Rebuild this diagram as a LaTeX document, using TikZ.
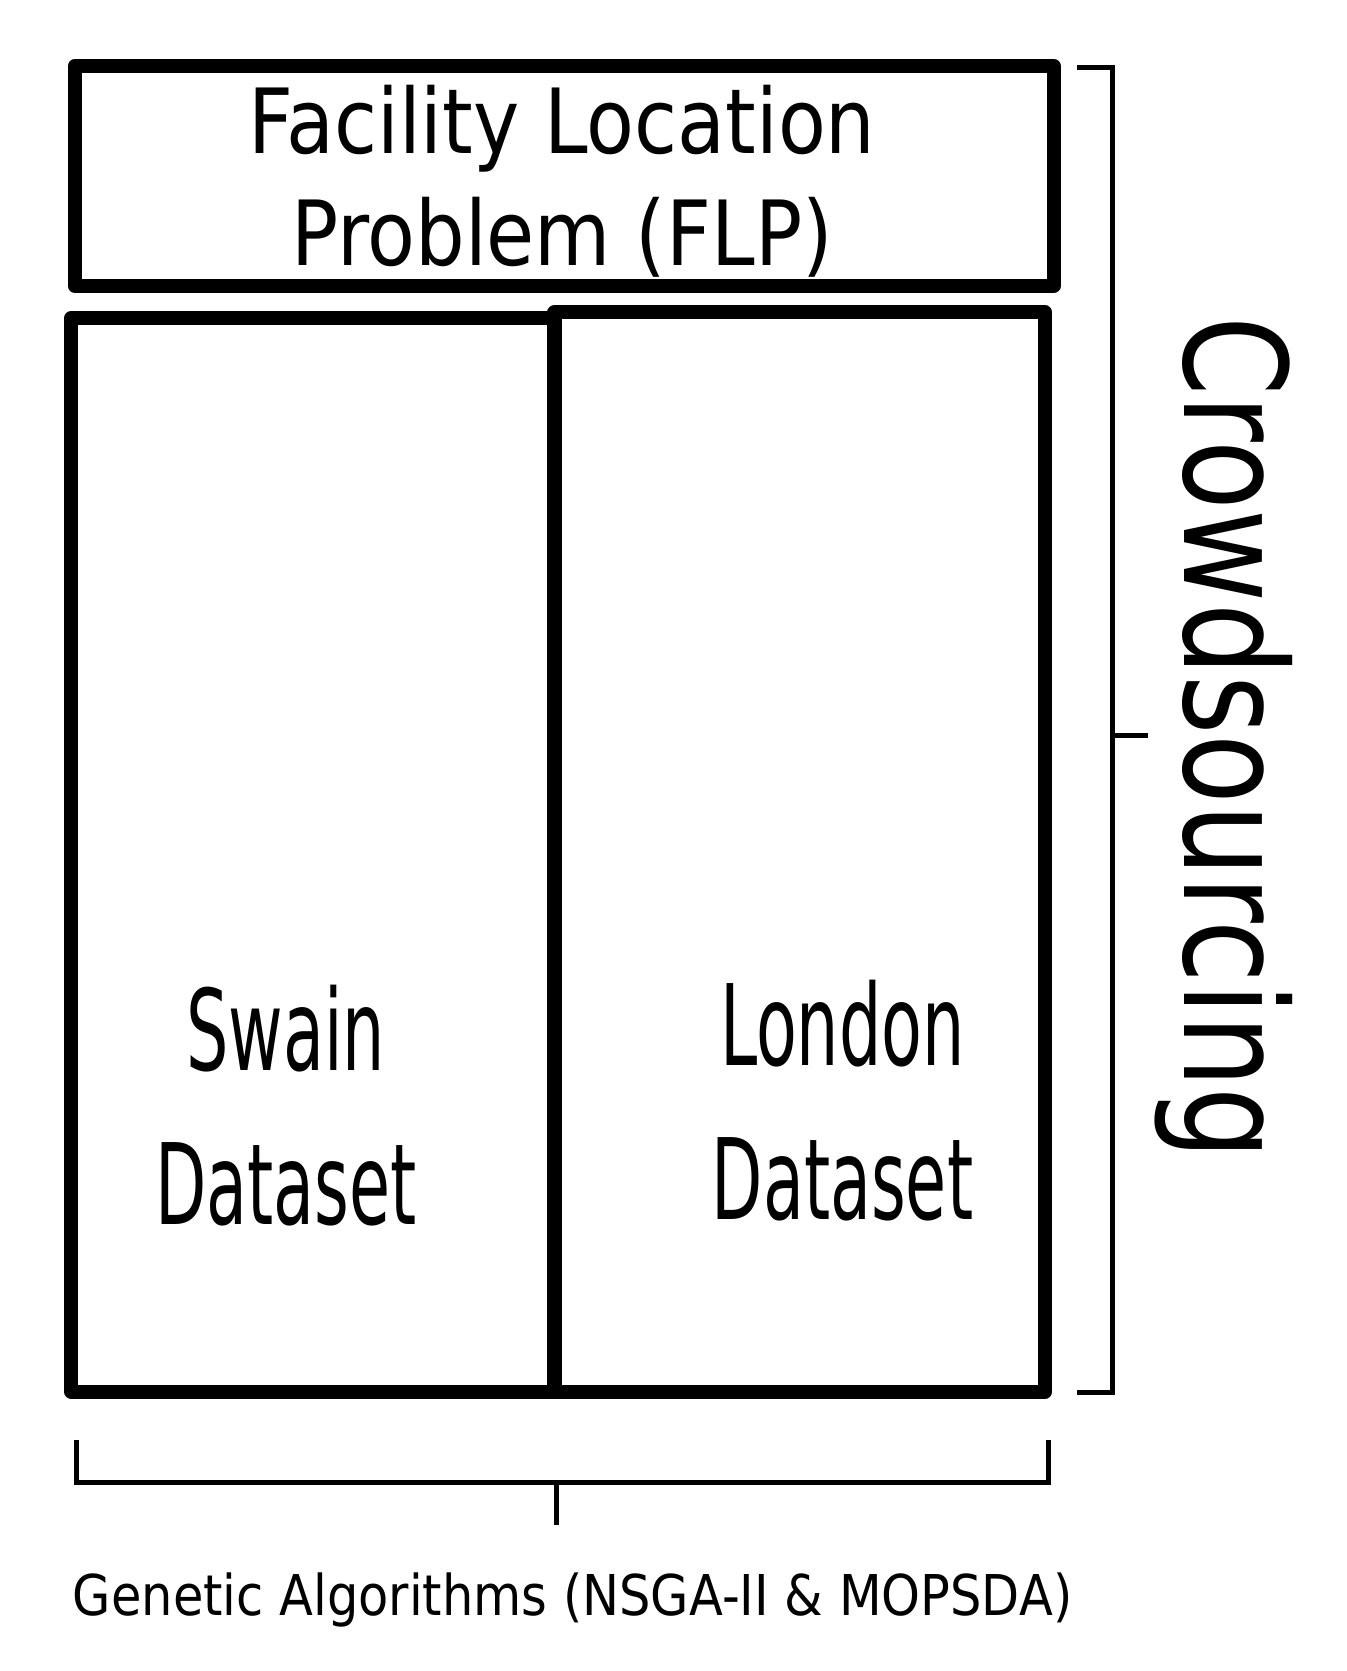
\documentclass[tikz,border=0pt]{standalone}
\usepackage{fontspec}
\setmainfont{DejaVu Sans}
\newfontfamily\condfont{DejaVu Sans Condensed}
\usetikzlibrary{calc}

\tikzset{
  frame/.style={draw, line width=7.5pt, line join=round, line cap=round},
  brace/.style={draw, line width=2.5pt},
  bigtxt/.style={font=\fontsize{48}{60}\selectfont, align=center, xscale=0.87},
  datatxt/.style={font=\condfont\fontsize{60}{82}\selectfont, align=center, xscale=0.66},
}

\begin{document}
\begin{tikzpicture}[x=0.02cm,y=-0.02cm]
\useasboundingbox (0,0) rectangle (1263,1567);

% boxes
\draw[frame] (70,62) rectangle (988,268);
\node[bigtxt] (flp) at (527,170) {Facility Location\\Problem (FLP)};
\draw[frame] (67,298) rectangle (520,1305);
\draw[frame] (520,293) rectangle (980,1305);
\node[datatxt] (swain) at (268,1037) {Swain\\Dataset};
\node[datatxt] (london) at (790,1032) {London\\Dataset};

% right brace
\coordinate (r1) at (1010,63);
\coordinate (r2) at (1010,1306);
\draw[brace] (r1) -- ++(33,0) |- (r2);
\draw[brace] (1043,690) coordinate (rm) -- ++(34,0);
\node[rotate=-90, xscale=0.8, font=\fontsize{76}{90}\selectfont] (crowd) at (1148,692) {Crowdsourcing};

% bottom brace
\coordinate (b1) at (72,1350);
\coordinate (b2) at (983,1350);
\draw[brace] (b1) -- ++(0,40) -| (b2);
\draw[brace] (522,1390) coordinate (bm) -- ++(0,40);
\node[xscale=0.88, font=\fontsize{30}{36}\selectfont] (ga) at (537,1500) {Genetic Algorithms (NSGA-II \& MOPSDA)};
\end{tikzpicture}
\end{document}
